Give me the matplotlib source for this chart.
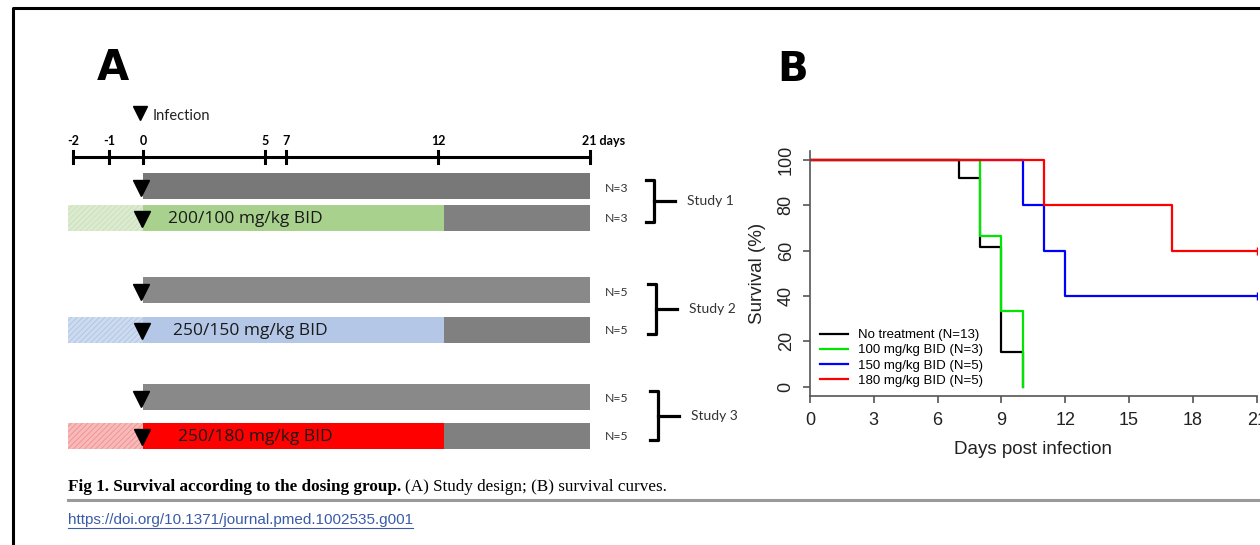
import matplotlib.pyplot as plt
import numpy as np

W, H = 1260, 545

# Panel A: study design
timeline_days = [-2, -1, 0, 5, 7, 12, 21]
timeline_labels = ["-2", "-1", "0", "5", "7", "12", "21 days"]
dose_labels = ["200/100 mg/kg BID", "250/150 mg/kg BID", "250/180 mg/kg BID"]
study_labels = ["Study 1", "Study 2", "Study 3"]
study_n = [3, 5, 5]
treat_start, infection_day, treat_end, follow_end = -2, 0, 12, 21

# Panel B: survival curves
curve_labels = ["No treatment (N=13)", "100 mg/kg BID (N=3)",
                "150 mg/kg BID (N=5)", "180 mg/kg BID (N=5)"]
no_treat_days = [0, 7, 8, 9, 10]
no_treat_surv = [100, 92.3, 61.5, 15.4, 0]
bid100_days = [0, 8, 9, 10]
bid100_surv = [100, 66.7, 33.3, 0]
bid150_days = [0, 10, 11, 12, 21]
bid150_surv = [100, 80, 60, 40, 40]
bid180_days = [0, 11, 17, 21]
bid180_surv = [100, 80, 60, 60]

# schematic (non-linear) timeline positions in pixels
timeline_x = [73, 109, 143, 265, 286, 438, 590]


def dx(d):
    return np.interp(d, timeline_days, timeline_x)


fig = plt.figure(figsize=(W / 100, H / 100), dpi=100)
ax = fig.add_axes([0, 0, 1, 1])
ax.set_xlim(0, W)
ax.set_ylim(H, 0)
ax.axis("off")

fa = "Lato"

# frame
ax.plot([13, 13, W], [H, 8, 8], color="black", lw=2.2, solid_capstyle="butt")

ax.text(97, 68, "A", fontsize=30, fontweight="heavy", family="DejaVu Sans", va="center")
ax.text(777, 70, "B", fontsize=29, fontweight="heavy", family="DejaVu Sans", va="center")

# timeline
ax.plot(140, 113, marker="v", color="black", markersize=10)
ax.text(153, 116, "Infection", fontsize=10.5, family=fa, va="center", color="#222222")
ax.plot([dx(-2), dx(21)], [157, 157], color="black", lw=2.2)
for d, lab in zip(timeline_days, timeline_labels):
    ax.plot([dx(d), dx(d)], [151, 163], color="black", lw=2.2)
    if lab.endswith("days"):
        ax.text(dx(d) - 8, 141, lab, fontsize=9, family=fa, fontweight="bold",
                ha="left", va="center")
    else:
        ax.text(dx(d), 141, lab, fontsize=9, family=fa, fontweight="bold",
                ha="center", va="center")

# bars
ctrl_y = [186, 290, 397]
treat_y = [218, 330, 436]
bar_h = 26
ctrl_colors = ["#787878", "#898989", "#898989"]
dose_colors = ["#a9d18e", "#b4c7e7", "#ff0000"]
pre_colors = ["#dcebcf", "#cddbf0", "#f8b9b9"]
hatch_colors = ["#c9dfb8", "#aec3e3", "#f08f8f"]
text_x = [168, 173, 178]
bracket_x = [654, 656, 658]
end_shift = 6  # treatment block ends a little right of the "12" tick

plt.rcParams["hatch.linewidth"] = 0.6
for i in range(3):
    yc, yt = ctrl_y[i], treat_y[i]
    x0, x12, x21 = dx(infection_day), dx(treat_end) + end_shift, dx(follow_end)
    ax.barh(yc, x21 - x0, left=x0, height=bar_h, color=ctrl_colors[i])
    ax.barh(yt, x0 - dx(treat_start) + 5, left=dx(treat_start) - 5,
            height=bar_h, facecolor=pre_colors[i], edgecolor=hatch_colors[i],
            hatch="//////", lw=0)
    ax.barh(yt, x12 - x0, left=x0, height=bar_h, color=dose_colors[i])
    ax.barh(yt, x21 - x12, left=x12, height=bar_h, color="#808080")
    ax.plot(141, yc + 2, marker="v", color="black", markersize=11)
    ax.plot(142, yt + 1, marker="v", color="black", markersize=11)
    ax.text(text_x[i], yt + 1, dose_labels[i], fontsize=12.5, family="Open Sans",
            va="center", color="#1a1a1a")
    ax.text(605, yc + 2, f"N={study_n[i]}", fontsize=8.8, family=fa, va="center",
            color="#333333")
    ax.text(605, yt + 1, f"N={study_n[i]}", fontsize=8.8, family=fa, va="center",
            color="#333333")
    bx = bracket_x[i]
    top, bot = yc - 6, yt + 4
    mid = (top + bot) / 2
    ax.plot([bx - 8, bx, bx, bx - 8], [top, top, bot, bot], color="black", lw=2.3)
    ax.plot([bx, bx + 21], [mid, mid], color="black", lw=2.3)
    ax.text(bx + 33, mid, study_labels[i], fontsize=10, family=fa, va="center",
            color="#333333")

# caption
cap = ax.text(68, 487, "Fig 1. Survival according to the dosing group.",
              fontsize=12.3, family="Liberation Serif", fontweight="bold",
              va="center")
fig.canvas.draw()
r = fig.canvas.get_renderer()
bb = cap.get_window_extent(r)
ax.text(bb.x1 + 4, 487, "(A) Study design; (B) survival curves.",
        fontsize=12.3, family="Liberation Serif", va="center")
ax.plot([68, W], [500, 500], color="#9a9a9a", lw=2.2)
doi = ax.text(68, 520, "https://doi.org/10.1371/journal.pmed.1002535.g001",
              fontsize=11, family="Liberation Sans",
              va="center", color="#3a5ca8")
bb = doi.get_window_extent(r)
ax.plot([68, 68 + bb.width], [528, 528], color="#3a5ca8", lw=0.8)

# panel B
bx0, bx1, by0, by1 = 810, 1256.7, 151, 395.7
axb = fig.add_axes([bx0 / W, (H - by1) / H, (bx1 - bx0) / W, (by1 - by0) / H])
axb.set_facecolor("none")
axb.step(no_treat_days, no_treat_surv, where="post", color="black", lw=1.6,
         label=curve_labels[0])
axb.step(bid100_days, bid100_surv, where="post", color="#00e600", lw=1.6,
         label=curve_labels[1])
axb.step(bid150_days, bid150_surv, where="post", color="#0000ff", lw=1.6,
         label=curve_labels[2])
axb.step(bid180_days, bid180_surv, where="post", color="#ff0000", lw=1.6,
         label=curve_labels[3])
axb.plot(bid150_days[-1], bid150_surv[-1], marker="|", color="#0000ff", markersize=6)
axb.plot(bid180_days[-1], bid180_surv[-1], marker="|", color="#ff0000", markersize=6)
axb.set_xlim(0, 21)
axb.set_ylim(-4, 104)
axb.set_xticks(range(0, 22, 3))
axb.set_yticks(range(0, 101, 20))
for s in ["top", "right"]:
    axb.spines[s].set_visible(False)
for s in ["left", "bottom"]:
    axb.spines[s].set_color("#555555")
    axb.spines[s].set_linewidth(1.2)
axb.tick_params(direction="out", length=5, width=1.2, color="#555555",
                labelsize=13, labelcolor="#222222", pad=6)
axb.tick_params(axis="x", pad=7)
axb.tick_params(axis="y", labelrotation=90)
for t in axb.get_yticklabels():
    t.set_va("center")
    t.set_family("Liberation Sans")
for t in axb.get_xticklabels():
    t.set_family("Liberation Sans")
axb.set_ylabel("Survival (%)", fontsize=13.5, family="Liberation Sans", color="#222222")
axb.yaxis.set_label_coords(-0.098, 0.5)
axb.set_xlabel("Days post infection", fontsize=13.5, family="Liberation Sans",
               color="#222222")
axb.xaxis.set_label_coords(0.5, -0.185)
axb.legend(loc="upper left", bbox_to_anchor=(820 / W, (H - 329) / H),
           bbox_transform=fig.transFigure, frameon=False, borderpad=0,
           borderaxespad=0, handlelength=2.1, handletextpad=0.75,
           labelspacing=0.22, prop={"family": "Liberation Sans", "size": 9.5})

fig.savefig("out.png", dpi=100)
